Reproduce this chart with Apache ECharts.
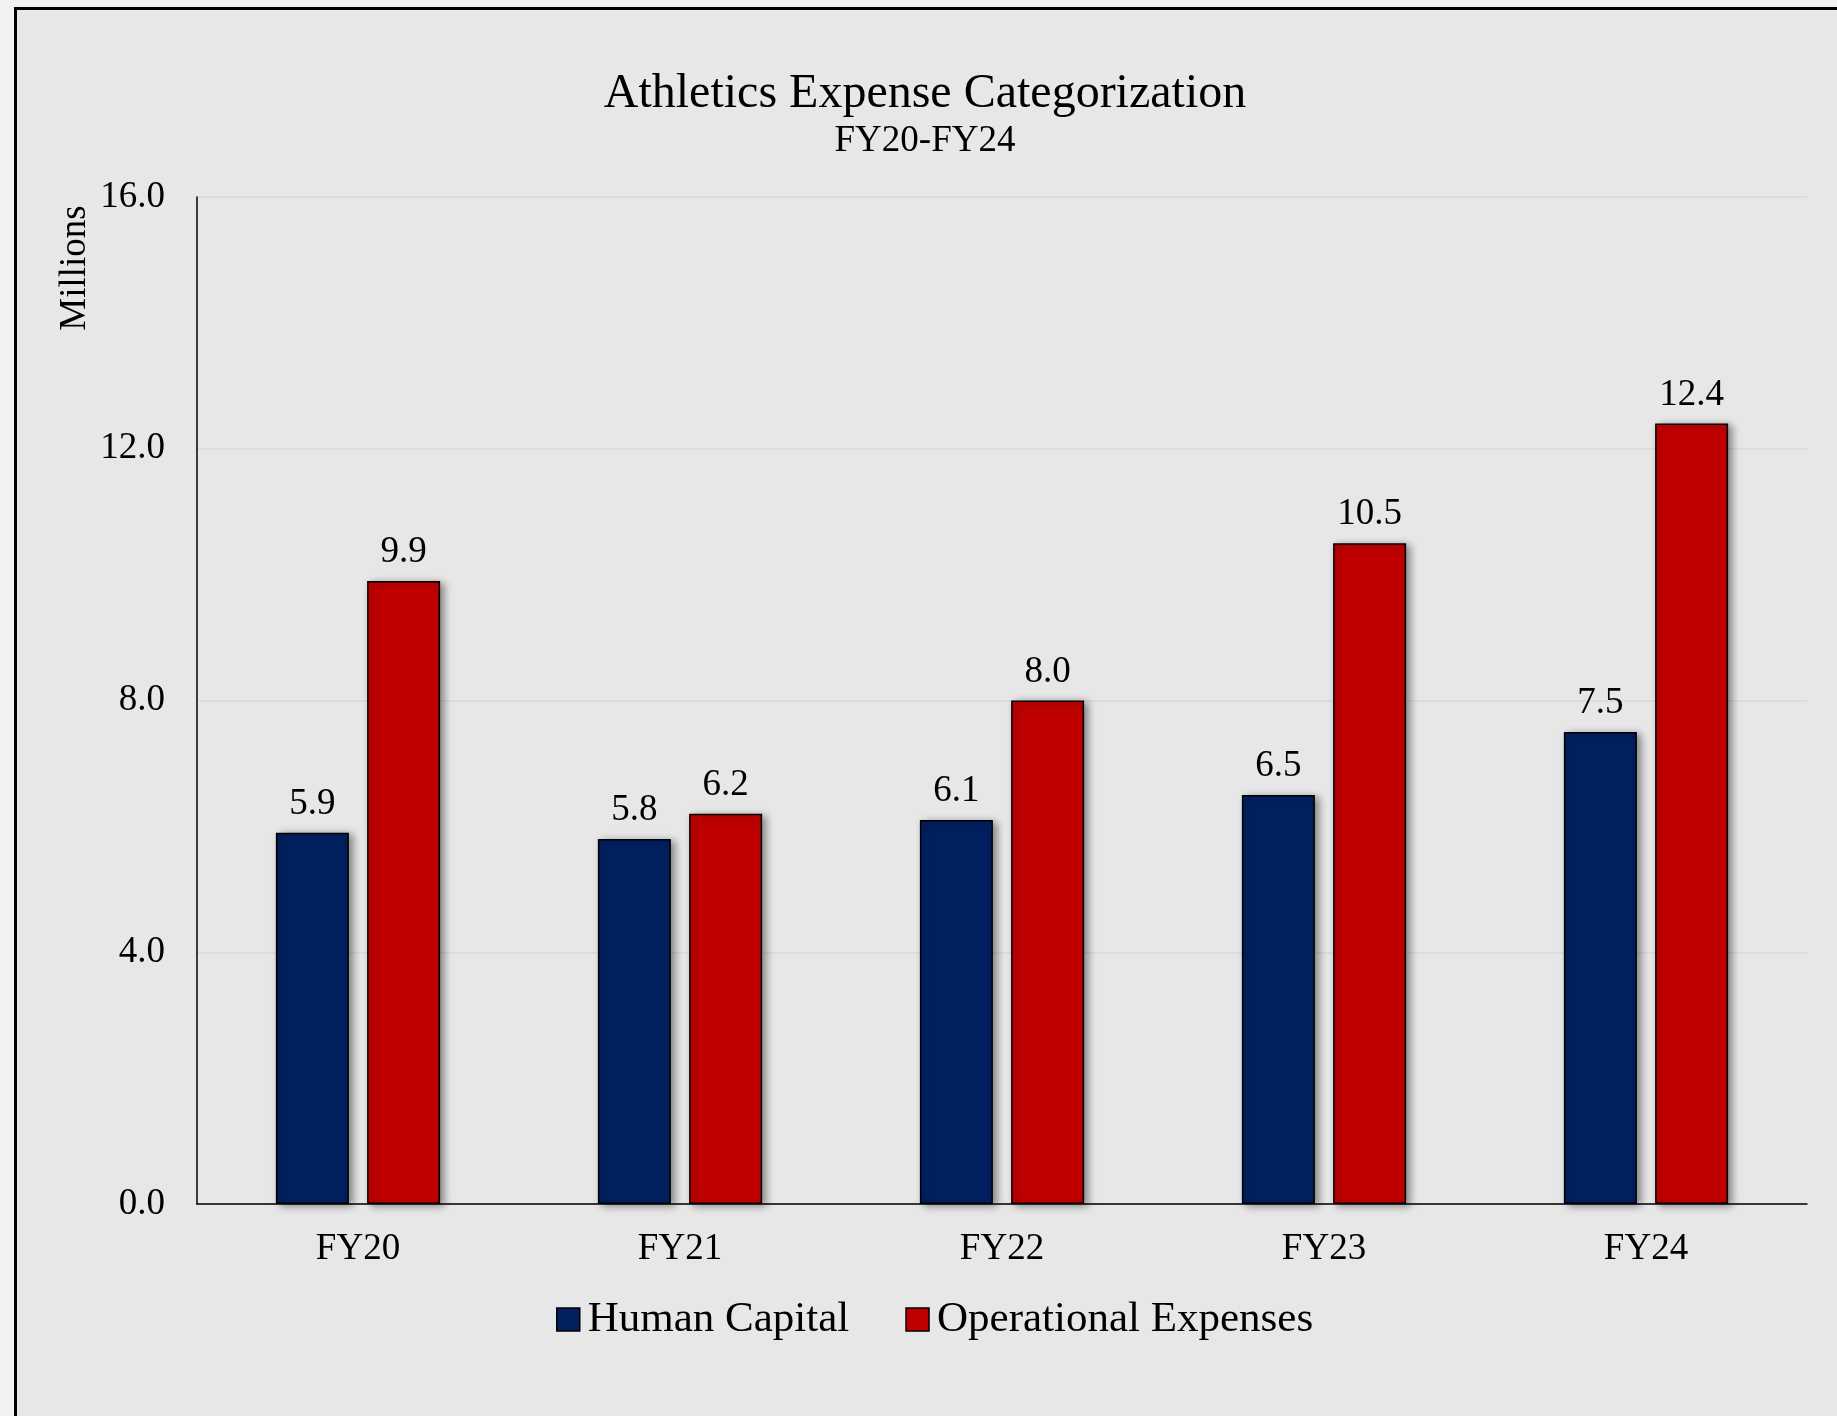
<!DOCTYPE html>
<html>
<head>
<meta charset="utf-8">
<title>Athletics Expense Categorization</title>
<script src="https://cdn.jsdelivr.net/npm/echarts@6/dist/echarts.min.js"></script>
<style>
  html, body { margin: 0; padding: 0; background: #f2f2f2; width: 1837px; height: 1416px; overflow: hidden; }
  #frame { position: absolute; left: 14px; top: 7px; width: 1900px; height: 1500px;
           border: 3px solid #000; background: #e7e7e7; box-sizing: border-box; }
  #chart { position: absolute; left: 17px; top: 10px; width: 1816px; height: 1406px; }
</style>
</head>
<body>
<div id="frame"></div>
<div id="chart"></div>
<script>
// Fiscal years and expense totals (millions of dollars)
const categories = ['FY20', 'FY21', 'FY22', 'FY23', 'FY24'];
const humanCapital = [5.9, 5.8, 6.1, 6.5, 7.5];
const operationalExpenses = [9.9, 6.2, 8.0, 10.5, 12.4];
const seriesNames = ['Human Capital', 'Operational Expenses'];
const yMin = 0, yMax = 16, yStep = 4;

const FONT = '"Liberation Serif", "Times New Roman", Times, serif';
const NAVY = '#002060';
const RED = '#C00000';

const chart = echarts.init(document.getElementById('chart'), null, { renderer: 'canvas' });

function barSeries(name, data, color) {
  return {
    name: name,
    type: 'bar',
    data: data,
    barWidth: 73,
    barGap: '25%',
    itemStyle: {
      color: color,
      borderColor: '#000',
      borderWidth: 1.5,
      shadowColor: 'rgba(0,0,0,0.45)',
      shadowBlur: 8,
      shadowOffsetX: 4,
      shadowOffsetY: 2
    },
    label: {
      show: true,
      position: 'top',
      distance: 10,
      color: '#000',
      fontFamily: FONT,
      fontSize: 37,
      formatter: p => p.value.toFixed(1)
    },
    emphasis: { disabled: true }
  };
}

chart.setOption({
  animation: false,
  backgroundColor: 'transparent',
  title: {
    text: 'Athletics Expense Categorization',
    subtext: 'FY20-FY24',
    left: 'center',
    top: 55,
    itemGap: 5,
    textStyle: { fontFamily: FONT, fontSize: 48, fontWeight: 'normal', color: '#000' },
    subtextStyle: { fontFamily: FONT, fontSize: 37, color: '#000' }
  },
  legend: {
    data: seriesNames,
    left: 534,
    top: 1283,
    itemWidth: 23,
    itemHeight: 23,
    itemGap: 56,
    icon: 'rect',
    itemStyle: { borderColor: '#000', borderWidth: 1.5, shadowBlur: 0, shadowOffsetX: 0, shadowOffsetY: 0 },
    textStyle: { fontFamily: FONT, fontSize: 43, color: '#000', padding: [0, 0, 0, 3] }
  },
  grid: { left: 180, top: 187, right: 26, bottom: 212, containLabel: false },
  xAxis: {
    type: 'category',
    data: categories,
    axisLine: { lineStyle: { color: '#000', width: 1.5 } },
    axisTick: { show: false },
    axisLabel: { fontFamily: FONT, fontSize: 37, color: '#000', margin: 27 },
    splitLine: { show: false }
  },
  yAxis: {
    type: 'value',
    min: yMin,
    max: yMax,
    interval: yStep,
    axisLine: { show: true, lineStyle: { color: '#000', width: 1.5 } },
    axisTick: { show: false },
    axisLabel: { fontFamily: FONT, fontSize: 37, color: '#000', margin: 32, formatter: v => v.toFixed(1) },
    splitLine: { show: true, lineStyle: { color: '#d9d9d9', width: 1.5 } }
  },
  graphic: [{
    type: 'text',
    x: 58,
    y: 258,
    rotation: Math.PI / 2,
    style: { text: 'Millions', fontFamily: FONT, fontSize: 37, fill: '#000', align: 'center', verticalAlign: 'middle' }
  }],
  series: [
    barSeries(seriesNames[0], humanCapital, NAVY),
    barSeries(seriesNames[1], operationalExpenses, RED)
  ]
});
</script>
</body>
</html>
